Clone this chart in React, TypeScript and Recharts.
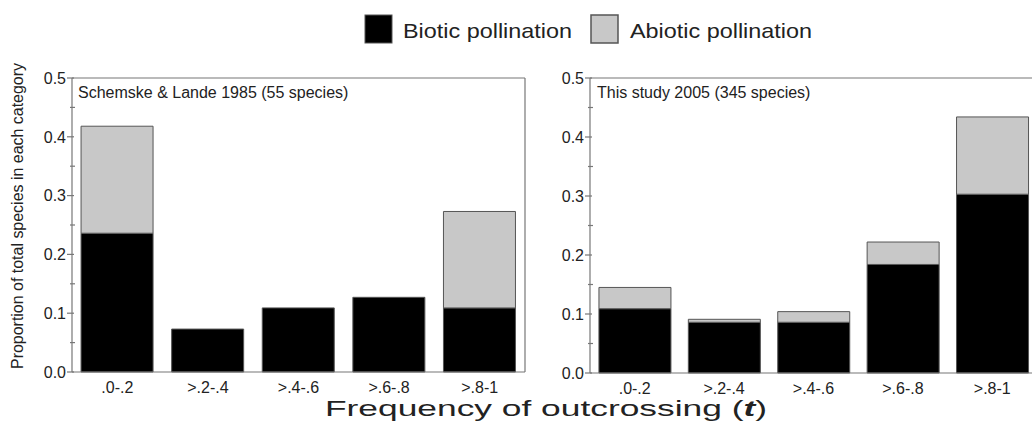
import React from "react";
import { BarChart, Bar, XAxis, YAxis, ReferenceLine } from "recharts";

const categories = [".0-.2", ">.2-.4", ">.4-.6", ">.6-.8", ">.8-1"];
const schemskeBiotic = [0.236, 0.073, 0.109, 0.127, 0.109];
const schemskeAbiotic = [0.182, 0, 0, 0, 0.164];
const studyBiotic = [0.109, 0.086, 0.086, 0.184, 0.303];
const studyAbiotic = [0.036, 0.005, 0.018, 0.038, 0.131];
const yTicks = [0, 0.05, 0.1, 0.15, 0.2, 0.25, 0.3, 0.35, 0.4, 0.45, 0.5];

const leftData = categories.map((cat, i) => ({ cat, biotic: schemskeBiotic[i], abiotic: schemskeAbiotic[i] }));
const rightData = categories.map((cat, i) => ({ cat, biotic: studyBiotic[i], abiotic: studyAbiotic[i] }));

const FONT = "'Liberation Sans', Arial, Helvetica, sans-serif";
const AX = "#777";
const TXT = "#222";
const BAR_STROKE = "#555";
const GREY = "#c8c8c8";

const isMajor = (v: number) => Math.abs(v * 10 - Math.round(v * 10)) < 1e-6;

const makeLeftTick = (axisX: number) => (props: any) => {
  const { y, payload } = props;
  const v = payload.value as number;
  const major = isMajor(v);
  return (
    <g>
      {major ? (
        <line x1={axisX - 5} x2={axisX + 2} y1={y} y2={y} stroke={AX} strokeWidth={1.2} />
      ) : (
        <line x1={axisX - 2} x2={axisX + 3} y1={y} y2={y} stroke={AX} strokeWidth={1.2} />
      )}
      {major && (
        <text x={axisX - 6} y={y} dy="0.36em" textAnchor="end" fontSize={16} fontFamily={FONT} fill={TXT}>
          {v.toFixed(1)}
        </text>
      )}
    </g>
  );
};

const makeRightTick = (axisX: number) => (props: any) => {
  const { y } = props;
  return <line x1={axisX - 3} x2={axisX + 3} y1={y} y2={y} stroke={AX} strokeWidth={1.2} />;
};

const makeXTick = (axisY: number) => (props: any) => {
  const { x, payload } = props;
  return (
    <text x={x} y={axisY + 21} textAnchor="middle" fontSize={16} fontFamily={FONT} fill={TXT}>
      {payload.value}
    </text>
  );
};

function LeftPanel() {
  return (
    <BarChart
      width={540}
      height={423}
      data={leftData}
      margin={{ top: 78, right: 5, bottom: 21, left: 32 }}
      barCategoryGap="10%"
    >
      <XAxis dataKey="cat" axisLine={{ stroke: AX, strokeWidth: 1.2 }} tickLine={false} height={30} interval={0} tick={makeXTick(372)} />
      <YAxis
        domain={[0, 0.5]}
        ticks={yTicks}
        interval={0}
        width={40}
        axisLine={{ stroke: AX, strokeWidth: 1.2 }}
        tickLine={false}
        tick={makeLeftTick(72)}
      />
      <YAxis
        yAxisId="r"
        orientation="right"
        domain={[0, 0.5]}
        ticks={yTicks}
        interval={0}
        width={10}
        axisLine={{ stroke: AX, strokeWidth: 1.2 }}
        tickLine={false}
        tick={makeRightTick(525)}
      />
      <ReferenceLine y={0.5} stroke={AX} strokeWidth={1.2} />
      <Bar dataKey="biotic" stackId="a" fill="#000" stroke={BAR_STROKE} strokeWidth={1} isAnimationActive={false} />
      <Bar dataKey="abiotic" stackId="a" fill={GREY} stroke={BAR_STROKE} strokeWidth={1} isAnimationActive={false} />
    </BarChart>
  );
}

function RightPanel() {
  return (
    <BarChart
      width={540}
      height={423}
      data={rightData}
      margin={{ top: 78, right: 23, bottom: 20, left: 30 }}
      barCategoryGap="10%"
    >
      <XAxis dataKey="cat" axisLine={{ stroke: AX, strokeWidth: 1.2 }} tickLine={false} height={30} interval={0} tick={makeXTick(373)} />
      <YAxis
        domain={[0, 0.5]}
        ticks={yTicks}
        interval={0}
        width={40}
        axisLine={{ stroke: AX, strokeWidth: 1.2 }}
        tickLine={false}
        tick={makeLeftTick(70)}
      />
      <ReferenceLine y={0.5} stroke={AX} strokeWidth={1.2} />
      <Bar dataKey="biotic" stackId="a" fill="#000" stroke={BAR_STROKE} strokeWidth={1} isAnimationActive={false} />
      <Bar dataKey="abiotic" stackId="a" fill={GREY} stroke={BAR_STROKE} strokeWidth={1} isAnimationActive={false} />
    </BarChart>
  );
}

export default function App() {
  return (
    <div
      style={{
        position: "absolute",
        left: 0,
        top: 0,
        width: 1032,
        height: 423,
        overflow: "hidden",
        background: "#fff",
      }}
    >
      <div style={{ position: "absolute", left: 0, top: 0 }}>
        <LeftPanel />
      </div>
      <div style={{ position: "absolute", left: 520, top: 0 }}>
        <RightPanel />
      </div>
      <svg
        width={1032}
        height={423}
        style={{ position: "absolute", left: 0, top: 0, pointerEvents: "none" }}
        fontFamily={FONT}
      >
        <rect x={365} y={15} width={27} height={28} fill="#000" stroke={BAR_STROKE} />
        <text x={403} y={38} fontSize={21} fill={TXT} textLength={169} lengthAdjust="spacingAndGlyphs">
          Biotic pollination
        </text>
        <rect x={591} y={15} width={27} height={28} fill={GREY} stroke={BAR_STROKE} strokeWidth={1.5} />
        <text x={630} y={38} fontSize={21} fill={TXT} textLength={182} lengthAdjust="spacingAndGlyphs">
          Abiotic pollination
        </text>
        <text x={78} y={98} fontSize={16} fill={TXT}>
          Schemske &amp; Lande 1985 (55 species)
        </text>
        <text x={597} y={98} fontSize={16} fill={TXT}>
          This study 2005 (345 species)
        </text>
        <text
          x={0}
          y={0}
          fontSize={16}
          fill={TXT}
          textLength={306}
          lengthAdjust="spacingAndGlyphs"
          transform="translate(23 369) rotate(-90)"
        >
          Proportion of total species in each category
        </text>
        <text x={325} y={416} fontSize={22} fill={TXT} textLength={442} lengthAdjust="spacingAndGlyphs">
          Frequency of outcrossing (<tspan fontStyle="italic" fontWeight="bold">t</tspan>)
        </text>
      </svg>
    </div>
  );
}
